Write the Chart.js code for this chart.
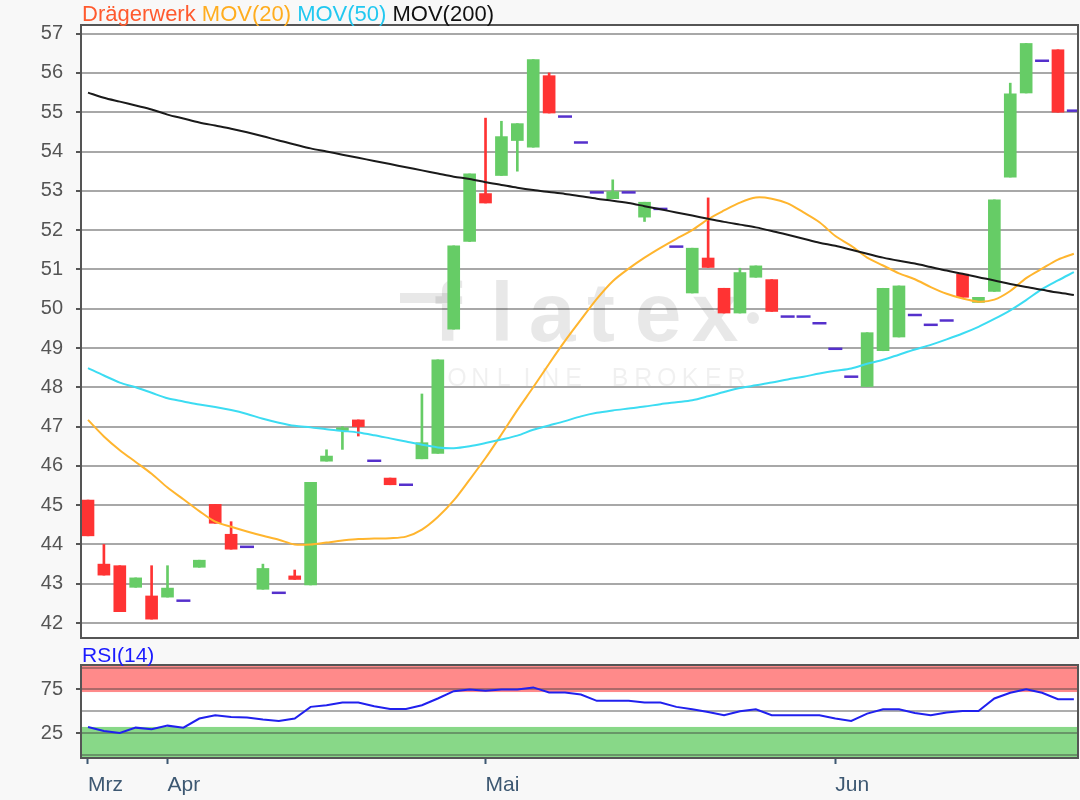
<!DOCTYPE html>
<html><head><meta charset="utf-8">
<script src="https://cdn.jsdelivr.net/npm/chart.js@4.4.1/dist/chart.umd.min.js"></script>
<style>
html,body{margin:0;padding:0;background:#f8f8f8;width:1080px;height:800px;overflow:hidden;}
canvas{position:absolute;left:0;}
#c1{top:0;}
#c2{top:645px;}
</style></head><body>
<canvas id="c1" width="1080" height="645"></canvas>
<canvas id="c2" width="1080" height="155"></canvas>
<script>
// ---- data ----
const dayIndex = [0,1,2,3,4,5,6,7,8,9,10,11,12,13,14,15,16,17,18,19,20,21,22,23,24,25,26,27,28,29,30,31,32,33,34,35,36,37,38,39,40,41,42,43,44,45,46,47,48,49,50,51,52,53,54,55,56,57,58,59,60,61,62];
const opens  = [45.13,43.5,43.46,42.91,42.69,42.66,42.57,43.42,45.02,44.26,43.94,42.86,42.77,43.2,42.97,46.12,46.9,47.17,46.13,45.69,45.52,46.18,46.32,49.48,51.71,52.93,53.39,54.28,54.11,55.93,54.89,54.23,52.96,52.8,52.96,52.33,52.54,51.58,50.40,51.29,50.52,49.89,50.80,50.74,49.80,49.80,49.63,48.98,48.27,48.02,48.93,49.28,49.84,49.59,49.70,50.88,50.16,50.44,53.35,55.49,56.31,56.59,55.04];
const highs  = [45.13,44.0,43.46,43.15,43.46,43.46,42.57,43.6,45.02,44.58,43.94,43.5,42.77,43.35,45.58,46.41,47.0,47.17,46.13,45.69,45.52,47.83,48.7,51.6,53.43,54.85,54.77,54.71,56.34,56.0,54.89,54.23,52.96,53.28,52.96,52.71,52.54,51.58,51.54,52.82,50.52,51.03,51.09,50.74,49.80,49.80,49.63,48.98,48.27,49.39,50.52,50.58,49.84,49.59,49.70,50.88,50.29,52.77,55.74,56.75,56.31,56.59,55.04];
const lows   = [44.22,43.22,42.29,42.91,42.1,42.66,42.57,43.42,44.54,43.88,43.94,42.86,42.77,43.11,42.97,46.12,46.42,46.76,46.13,45.52,45.52,46.18,46.32,49.48,51.71,52.69,53.39,53.5,54.11,54.98,54.89,54.23,52.96,52.8,52.96,52.22,52.54,51.58,50.40,51.05,49.89,49.89,50.80,49.93,49.80,49.80,49.63,48.98,48.27,48.02,48.93,49.28,49.84,49.59,49.70,50.29,50.16,50.44,53.35,55.49,56.31,55.0,55.04];
const closes = [44.22,43.22,42.29,43.15,42.1,42.89,42.57,43.6,44.54,43.88,43.94,43.39,42.77,43.11,45.58,46.25,46.97,47.0,46.13,45.52,45.52,46.59,48.7,51.6,53.43,52.69,54.38,54.71,56.34,54.98,54.89,54.23,52.96,52.98,52.96,52.71,52.54,51.58,51.54,51.05,49.89,50.92,51.09,49.93,49.80,49.80,49.63,48.98,48.27,49.39,50.52,50.58,49.84,49.59,49.70,50.29,50.29,52.77,55.47,56.75,56.31,55.0,55.04];
const mov20  = [47.17,46.75,46.4,46.1,45.8,45.45,45.15,44.85,44.58,44.45,44.33,44.22,44.12,44.0,44.0,44.05,44.1,44.14,44.15,44.16,44.2,44.38,44.7,45.12,45.65,46.2,46.8,47.42,48.0,48.6,49.18,49.72,50.25,50.7,51.02,51.3,51.55,51.78,52.0,52.28,52.5,52.7,52.83,52.8,52.68,52.45,52.2,51.85,51.6,51.3,51.1,50.9,50.75,50.55,50.38,50.26,50.18,50.23,50.45,50.78,51.02,51.25,51.4];
const mov50  = [48.49,48.3,48.12,48.0,47.86,47.72,47.64,47.56,47.5,47.42,47.32,47.2,47.1,47.02,46.98,46.93,46.89,46.85,46.78,46.7,46.62,46.54,46.47,46.45,46.5,46.58,46.67,46.77,46.92,47.03,47.14,47.26,47.35,47.41,47.46,47.51,47.57,47.62,47.67,47.77,47.88,47.98,48.05,48.12,48.2,48.27,48.35,48.42,48.48,48.6,48.7,48.83,48.96,49.08,49.22,49.37,49.54,49.74,49.96,50.22,50.5,50.72,50.93];
const mov200 = [55.5,55.37,55.27,55.17,55.07,54.94,54.84,54.74,54.66,54.58,54.49,54.39,54.28,54.18,54.08,54.0,53.92,53.84,53.76,53.68,53.6,53.52,53.44,53.36,53.3,53.22,53.15,53.08,53.02,52.97,52.92,52.86,52.8,52.75,52.69,52.61,52.53,52.45,52.37,52.29,52.21,52.14,52.07,51.98,51.88,51.78,51.68,51.6,51.5,51.4,51.3,51.22,51.15,51.06,50.97,50.89,50.8,50.72,50.63,50.55,50.48,50.41,50.35];
const rsi14  = [32,27.3,25,31.2,29.3,33.5,31.2,41.6,45.4,43.4,42.7,40.4,38.8,41.6,55,56.9,60,60,55.8,52.7,52.7,56.9,64.6,73,75,73.4,75,75,77.3,71.5,71.5,69.2,61.9,61.9,61.9,60,60,55,52.3,49.2,45.4,50,52.3,45.4,45.4,45.4,45.4,41.6,38.8,47.3,52.3,52.3,48,45.4,48.5,50.3,50.3,64.6,71.1,75.3,71.1,63.8,63.8];
const monthTickIdx = [0,5,25,47];
const monthLabels  = ['Mrz','Apr','Mai','Jun'];
const priceTicks   = [42,43,44,45,46,47,48,49,50,51,52,53,54,55,56,57];
const rsiTicks     = [0,25,50,75,100];
const rsiLabelTicks = [25,75];
const rsiBands     = {upper:72, lower:32};
const headerTexts  = ['Drägerwerk','MOV(20)','MOV(50)','MOV(200)'];
const headerColors = ['#ff5a2e','#ffad1f','#22c8f0','#111111'];

// ---- styles ----
const FONT = '"Liberation Sans", Arial, sans-serif';
const UP = '#66cc66', DOWN = '#ff3333', DOJI = '#5530cc';
const X_MIN = -0.44, X_MAX = 62.26;

const isDoji = dayIndex.map(i => opens[i] === closes[i]);
const candles = dayIndex.filter(i => !isDoji[i]);
const dojis = dayIndex.filter(i => isDoji[i]);
const colorOf = i => closes[i] >= opens[i] ? UP : DOWN;

const fitY = s => { s.width = 81; s.paddingTop = 0; s.paddingBottom = 0; };

const panelPlugin = {
  id: 'panel',
  beforeDraw(chart, args, opts) {
    const {ctx, chartArea: a} = chart;
    ctx.save();
    ctx.fillStyle = '#ffffff';
    ctx.fillRect(a.left, a.top, a.right - a.left, a.bottom - a.top);
    if (opts.bands) {
      const y = chart.scales.y;
      ctx.fillStyle = '#ff8a8a';
      const yu = y.getPixelForValue(rsiBands.upper);
      ctx.fillRect(a.left, a.top, a.right - a.left, yu - a.top);
      ctx.fillStyle = '#88d888';
      const yl = y.getPixelForValue(rsiBands.lower);
      ctx.fillRect(a.left, yl, a.right - a.left, a.bottom - yl);
    }
    ctx.restore();
  },
  afterDraw(chart, args, opts) {
    const {ctx, chartArea: a} = chart;
    ctx.save();
    ctx.strokeStyle = '#555555';
    ctx.lineWidth = 2;
    ctx.strokeRect(a.left, a.top, a.right - a.left, a.bottom - a.top);
    if (opts.header) {
      ctx.font = '22px ' + FONT;
      ctx.textBaseline = 'alphabetic';
      let x = 82;
      headerTexts.forEach((t, k) => {
        ctx.fillStyle = headerColors[k];
        ctx.fillText(t, x, 21);
        x += ctx.measureText(t + ' ').width;
      });
    }
    if (opts.rsiTitle) {
      ctx.font = '21px ' + FONT;
      ctx.fillStyle = '#1a1aff';
      ctx.textBaseline = 'alphabetic';
      ctx.fillText('RSI(14)', 82, 17);
    }
    ctx.restore();
  }
};

const watermarkPlugin = {
  id: 'watermark',
  beforeDatasetsDraw(chart) {
    const ctx = chart.ctx;
    ctx.save();
    ctx.fillStyle = 'rgba(0,0,0,0.09)';
    ctx.font = 'bold 84px ' + FONT;
    ctx.textAlign = 'center';
    ctx.textBaseline = 'alphabetic';
    const letters = ['f','l','a','t','e','x'];
    const lx = [448, 502, 552, 601, 658, 715];
    letters.forEach((c, k) => ctx.fillText(c, lx[k], 341));
    ctx.fillRect(400, 293, 60, 10);
    ctx.beginPath(); ctx.arc(753, 318, 6, 0, Math.PI * 2); ctx.fill();
    ctx.fillStyle = 'rgba(0,0,0,0.06)';
    ctx.font = '25px ' + FONT;
    const sub = 'ONLINE BROKER'.split('');
    sub.forEach((c, k) => ctx.fillText(c, 457 + k * 23.3, 386));
    ctx.restore();
  }
};

const mainChart = new Chart(document.getElementById('c1'), {
  type: 'bar',
  data: {
    datasets: [
      {type:'line', label:'MOV(200)', data: dayIndex.map(i => ({x:i, y:mov200[i]})), borderColor:'#1a1a1a', borderWidth:2, pointRadius:0, tension:0.3, order:0},
      {type:'line', label:'MOV(50)', data: dayIndex.map(i => ({x:i, y:mov50[i]})), borderColor:'#3cdcf2', borderWidth:2, pointRadius:0, tension:0.3, order:0},
      {type:'line', label:'MOV(20)', data: dayIndex.map(i => ({x:i, y:mov20[i]})), borderColor:'#ffb52e', borderWidth:2, pointRadius:0, tension:0.3, order:0},
      {type:'line', label:'doji', showLine:false, data: dojis.map(i => ({x:i, y:opens[i]})), pointStyle:'line', pointRadius:7, pointBorderWidth:2.5, pointBorderColor:DOJI, pointBackgroundColor:DOJI, order:1},
      {type:'bar', label:'body', data: candles.map(i => ({x:i, y:[opens[i], closes[i]]})), backgroundColor: candles.map(colorOf), barThickness:12, grouped:false, order:2},
      {type:'bar', label:'wick', data: candles.map(i => ({x:i, y:[lows[i], highs[i]]})), backgroundColor: candles.map(colorOf), barThickness:2, grouped:false, order:3}
    ]
  },
  options: {
    responsive:false, animation:false, devicePixelRatio:1,
    layout:{autoPadding:false, padding:{top:25, right:2, bottom:7, left:0}},
    plugins:{legend:{display:false}, tooltip:{enabled:false}, panel:{header:true}},
    scales:{
      x:{type:'linear', min:X_MIN, max:X_MAX, display:false, offset:false, grid:{display:false}},
      y:{type:'linear', min:41.62, max:57.22, position:'left',
         afterBuildTicks: s => { s.ticks = priceTicks.map(v => ({value:v})); },
         afterFit: fitY,
         border:{display:false},
         grid:{color:'#a8a8a8', lineWidth:2, drawTicks:true, tickLength:5, tickColor:'#555555', tickWidth:2},
         ticks:{font:{family:FONT, size:20}, color:'#555555', padding:13, autoSkip:false}
      }
    }
  },
  plugins:[panelPlugin, watermarkPlugin]
});

const rsiChart = new Chart(document.getElementById('c2'), {
  type: 'line',
  data: {
    datasets: [
      {label:'RSI(14)', data: dayIndex.map(i => ({x:i, y:rsi14[i]})), borderColor:'#2020ee', borderWidth:2, pointRadius:0, tension:0}
    ]
  },
  options: {
    responsive:false, animation:false, devicePixelRatio:1,
    layout:{autoPadding:false, padding:{top:20, right:2, bottom:0, left:0}},
    plugins:{legend:{display:false}, tooltip:{enabled:false}, panel:{bands:true, rsiTitle:true}},
    scales:{
      x:{type:'linear', min:X_MIN, max:X_MAX, offset:false,
         afterBuildTicks: s => { s.ticks = monthTickIdx.map(v => ({value:v})); },
         afterFit: s => { s.height = 42; s.paddingLeft = 0; s.paddingRight = 0; },
         border:{display:false},
         grid:{drawOnChartArea:false, drawTicks:true, tickLength:6, tickColor:'#3d5872', tickWidth:2},
         ticks:{align:'start', maxRotation:0, autoSkip:false, padding:9, font:{family:FONT, size:21}, color:'#3d5872',
                callback: v => monthLabels[monthTickIdx.indexOf(v)]}
      },
      y:{type:'linear', min:-3.6, max:103, position:'left',
         afterBuildTicks: s => { s.ticks = rsiTicks.map(v => ({value:v})); },
         afterFit: fitY,
         border:{display:false},
         grid:{color:'rgba(60,60,60,0.42)', lineWidth:2, drawTicks:true, tickLength:5, tickWidth:2,
               tickColor: c => (c.tick && rsiLabelTicks.includes(c.tick.value)) ? '#555555' : 'rgba(0,0,0,0)'},
         ticks:{font:{family:FONT, size:20}, color:'#555555', padding:13, autoSkip:false,
                callback: v => rsiLabelTicks.includes(v) ? String(v) : ''}
      }
    }
  },
  plugins:[panelPlugin]
});
</script>
</body></html>
